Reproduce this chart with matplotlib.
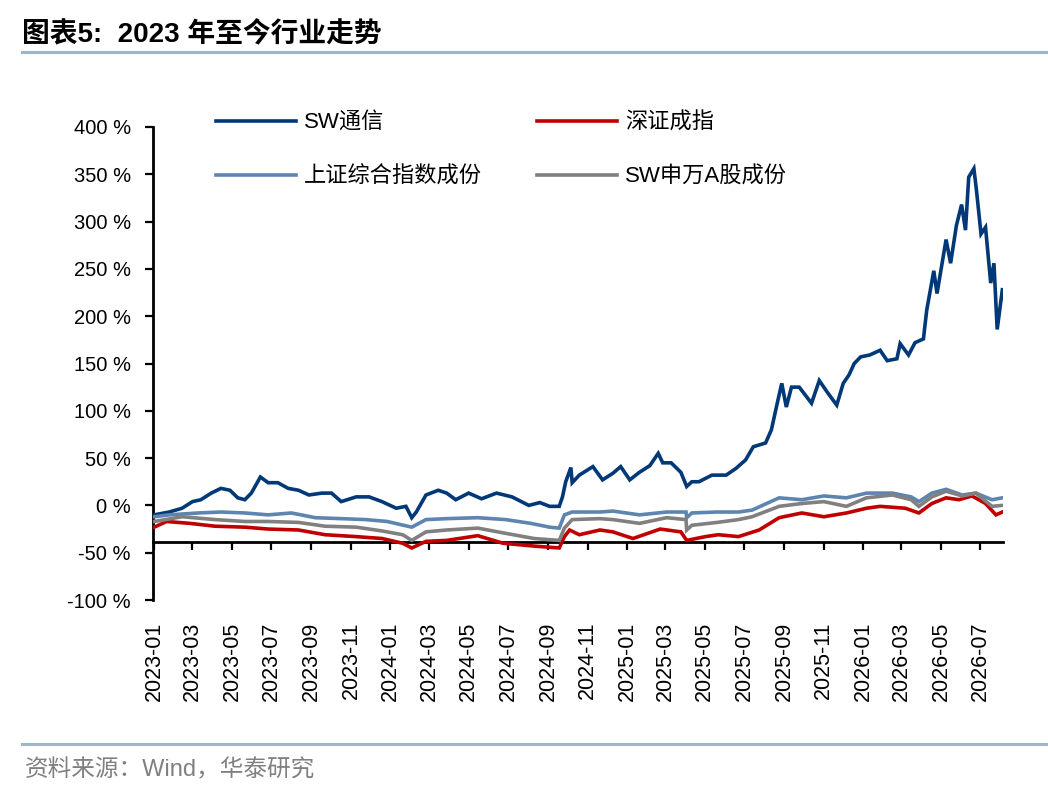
import matplotlib
matplotlib.use("Agg")
import matplotlib.pyplot as plt
import matplotlib.dates as mdates
from matplotlib.lines import Line2D
from matplotlib.ticker import FuncFormatter
import pandas as pd

plt.rcParams['font.family'] = ['Liberation Sans', 'Noto Sans CJK SC', 'DejaVu Sans']

# ---- data (percent) ----
tel_dates = ['2023-01-01', '2023-01-24', '2023-02-13', '2023-03-01', '2023-03-14', '2023-03-30',
             '2023-04-14', '2023-04-28', '2023-05-10', '2023-05-21', '2023-05-31', '2023-06-14',
             '2023-06-26', '2023-07-11', '2023-07-27', '2023-08-12', '2023-08-28', '2023-09-17',
             '2023-10-02', '2023-10-17', '2023-11-09', '2023-11-29', '2023-12-19', '2024-01-10',
             '2024-01-25', '2024-02-03', '2024-02-10', '2024-02-25', '2024-03-15', '2024-03-28',
             '2024-04-11', '2024-05-01', '2024-05-21', '2024-06-13', '2024-07-07', '2024-08-02',
             '2024-08-19', '2024-09-03', '2024-09-18', '2024-09-23', '2024-09-28', '2024-10-06',
             '2024-10-08', '2024-10-19', '2024-11-09', '2024-11-24', '2024-12-10', '2024-12-22',
             '2025-01-05', '2025-01-20', '2025-02-05', '2025-02-18', '2025-02-25', '2025-03-10',
             '2025-03-25', '2025-04-03', '2025-04-11', '2025-04-22', '2025-05-12', '2025-06-03',
             '2025-06-18', '2025-07-03', '2025-07-15', '2025-08-03', '2025-08-12', '2025-08-21',
             '2025-08-28', '2025-09-04', '2025-09-12', '2025-09-24', '2025-10-13', '2025-10-25',
             '2025-11-07', '2025-11-21', '2025-12-01', '2025-12-10', '2025-12-18', '2025-12-28',
             '2026-01-11', '2026-01-27', '2026-02-07', '2026-02-22', '2026-02-27', '2026-03-12',
             '2026-03-22', '2026-04-04', '2026-04-09', '2026-04-20', '2026-04-25', '2026-05-09',
             '2026-05-16', '2026-05-25', '2026-06-02', '2026-06-08', '2026-06-13', '2026-06-21',
             '2026-06-25', '2026-07-02', '2026-07-09', '2026-07-17', '2026-07-22', '2026-07-27',
             '2026-08-04']
tel_vals = [-10, -7, -3, 4, 6, 13, 18, 16, 8, 6, 13, 30, 24, 24, 18, 16, 11, 13, 13, 4, 9, 9, 4, -3,
            -1, -13, -7, 11, 16, 13, 6, 13, 7, 13, 9, 0, 3, -1, -1, 9, 25, 40, 24, 32, 41, 27, 34, 41,
            27, 35, 42, 55, 45, 45, 35, 20, 25, 25, 32, 32, 39, 48, 62, 66, 80, 108, 129, 104, 125,
            125, 108, 132, 119, 106, 129, 138, 150, 157, 159, 164, 153, 155, 171, 159, 172, 176,
            206, 248, 224, 281, 256, 296, 318, 291, 347, 356, 333, 287, 294, 235, 256, 186, 228]

sz_dates = ['2023-01-01', '2023-01-20', '2023-02-25', '2023-04-05', '2023-05-21', '2023-06-26',
            '2023-08-12', '2023-09-22', '2023-11-09', '2023-12-19', '2024-01-20', '2024-02-03',
            '2024-02-25', '2024-03-28', '2024-05-15', '2024-06-23', '2024-08-10', '2024-09-18',
            '2024-09-26', '2024-10-04', '2024-10-19', '2024-11-20', '2024-12-10', '2025-01-10',
            '2025-02-21', '2025-03-25', '2025-04-03', '2025-05-02', '2025-05-22', '2025-06-22',
            '2025-07-24', '2025-08-24', '2025-09-28', '2025-11-01', '2025-12-06', '2026-01-06',
            '2026-01-27', '2026-03-07', '2026-03-28', '2026-04-17', '2026-05-09', '2026-05-29',
            '2026-06-18', '2026-07-09', '2026-07-25', '2026-08-04']
sz_vals = [-23, -17, -19, -22, -23, -25, -26, -31, -33, -35, -40, -45, -38, -37, -32, -40, -43, -45,
           -33, -26, -31, -26, -28, -35, -25, -28, -37, -33, -31, -33, -26, -13, -8, -12, -8, -3,
           -1, -3, -8, 2, 8, 6, 10, 2, -10, -7]

sh_dates = ['2023-01-01', '2023-01-24', '2023-03-10', '2023-04-14', '2023-05-21', '2023-06-26',
            '2023-08-01', '2023-09-07', '2023-10-17', '2023-11-24', '2023-12-27', '2024-02-03',
            '2024-02-25', '2024-03-28', '2024-05-15', '2024-06-27', '2024-08-05', '2024-09-03',
            '2024-09-18', '2024-09-26', '2024-10-08', '2024-11-20', '2024-12-10', '2025-01-20',
            '2025-03-03', '2025-04-02', '2025-04-03', '2025-04-11', '2025-05-19', '2025-06-22',
            '2025-07-13', '2025-08-24', '2025-09-28', '2025-11-01', '2025-12-06', '2026-01-06',
            '2026-02-15', '2026-03-16', '2026-03-28', '2026-04-17', '2026-05-09', '2026-06-03',
            '2026-06-24', '2026-07-19', '2026-08-04']
sh_vals = [-12, -10, -8, -7, -8, -10, -8, -13, -14, -15, -17, -23, -15, -14, -13, -15, -19, -23,
           -24, -10, -7, -7, -6, -10, -7, -7, -13, -8, -7, -7, -5, 8, 6, 10, 8, 13, 13, 9, 4, 13,
           17, 11, 13, 6, 8]

sw_dates = ['2023-01-01', '2023-02-13', '2023-04-05', '2023-05-21', '2023-06-26', '2023-08-12',
            '2023-09-22', '2023-11-09', '2023-12-19', '2024-01-20', '2024-02-03', '2024-02-25',
            '2024-03-28', '2024-05-15', '2024-06-23', '2024-08-10', '2024-09-18', '2024-09-26',
            '2024-10-08', '2024-11-20', '2024-12-10', '2025-01-20', '2025-03-03', '2025-04-02',
            '2025-04-03', '2025-04-11', '2025-05-20', '2025-06-22', '2025-07-13', '2025-08-24',
            '2025-09-28', '2025-11-01', '2025-12-06', '2026-01-06', '2026-02-15', '2026-03-16',
            '2026-03-28', '2026-04-17', '2026-05-09', '2026-06-03', '2026-06-24', '2026-07-19',
            '2026-08-04']
sw_vals = [-17, -12, -15, -17, -17, -18, -22, -23, -27, -31, -37, -28, -26, -24, -29, -35, -37,
           -24, -15, -14, -15, -19, -13, -15, -26, -21, -18, -15, -12, -1, 2, 4, -1, 8, 11, 6,
           -1, 9, 15, 10, 13, -1, 0]

series_names = ['SW通信', '深证成指', '上证综合指数成份', 'SW申万A股成份']
series_colors = ['#003878', '#C00000', '#5E84B0', '#808080']

y_ticks = [-1.0, -0.5, 0, 0.5, 1.0, 1.5, 2.0, 2.5, 3.0, 3.5, 4.0]
x_ticks = pd.date_range('2023-01-01', '2026-07-01', freq='2MS')

# ---- figure ----
fig = plt.figure(figsize=(10.48, 7.92), dpi=100)
ax = fig.add_axes([153 / 1048, 1 - 600 / 792, (1003 - 153) / 1048, (600 - 127) / 792])

data = [(tel_dates, tel_vals), (sz_dates, sz_vals), (sh_dates, sh_vals), (sw_dates, sw_vals)]
handles = []
for (d, v), name, col in zip(data, series_names, series_colors):
    h, = ax.plot(pd.to_datetime(d), [x / 100 for x in v], color=col, lw=2.6,
                 label=name, solid_joinstyle='miter', zorder=3)
    handles.append(h)

ax.set_ylim(-1.0, 4.0)
ax.set_xlim(pd.Timestamp('2022-12-30'), pd.Timestamp('2026-08-05'))
ax.set_yticks(y_ticks)
ax.yaxis.set_major_formatter(FuncFormatter(lambda v, p: f'{v * 100:.0f} %'))
ax.set_xticks(x_ticks)
ax.xaxis.set_major_formatter(mdates.DateFormatter('%Y-%m'))

for s in ['top', 'right']:
    ax.spines[s].set_visible(False)
ax.spines['left'].set_linewidth(2.0)
ax.spines['bottom'].set_linewidth(2.0)
ax.spines['bottom'].set_position(('data', -0.39))
ax.spines['bottom'].set_zorder(2)

ax.tick_params(axis='y', direction='out', length=6, width=1.6, labelsize=14.5, pad=10)
ax.tick_params(axis='x', direction='out', length=6, width=1.6, labelsize=15.5, pad=51,
               labelrotation=90)
for lab in ax.get_xticklabels():
    lab.set_va('top')

# legend in two columns, placed by hand
leg_kw = dict(frameon=False, fontsize=16, handlelength=3.6, handletextpad=0.35,
              labelspacing=1.45, borderpad=0, borderaxespad=0, loc='upper left',
              bbox_transform=fig.transFigure)
leg1 = ax.legend([handles[0], handles[2]], [series_names[0], series_names[2]],
                 bbox_to_anchor=(216 / 1048, 1 - 113 / 792), **leg_kw)
ax.add_artist(leg1)
ax.legend([handles[1], handles[3]], [series_names[1], series_names[3]],
          bbox_to_anchor=(537 / 1048, 1 - 113 / 792), **leg_kw)

# title, rules and source note
fig.text(22 / 1048, 1 - 35 / 792, '图表5:  2023 年至今行业走势', fontsize=20,
         fontweight='bold', va='center', ha='left')
fig.add_artist(Line2D([22 / 1048, 1.0], [1 - 52 / 792] * 2, color='#9FB5CC', lw=2.2))
fig.add_artist(Line2D([22 / 1048, 1.0], [1 - 744 / 792] * 2, color='#9FB5CC', lw=2.2))
fig.text(25 / 1048, 1 - 770 / 792, '资料来源：Wind，华泰研究', fontsize=17,
         color='#808080', va='center', ha='left')

fig.savefig('out.png', dpi=100)
